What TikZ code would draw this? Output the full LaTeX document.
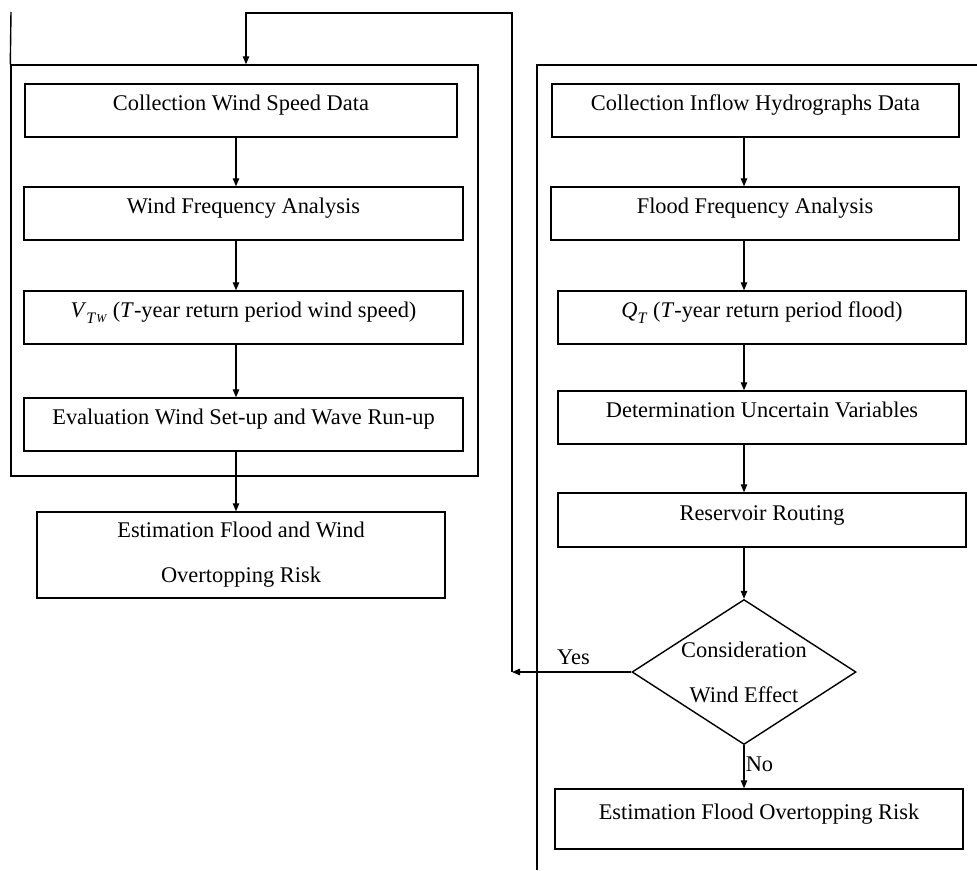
\documentclass[tikz,border=0pt]{standalone}
\usepackage{fontspec}
\setmainfont{Liberation Serif}
\usetikzlibrary{arrows.meta,shapes.geometric}
\newcommand{\subit}[1]{\raisebox{-0.28em}{\fontsize{16}{16}\selectfont\textit{#1}}}
\newcommand{\subsubit}[1]{\raisebox{-0.22em}{\fontsize{12}{12}\selectfont\textit{#1}}}
\begin{document}
\begin{tikzpicture}[x=1pt,y=-1pt,
  txt/.style={font=\fontsize{22.4}{45}\selectfont},
  box/.style={draw, line width=1.4pt, inner sep=0pt, txt, align=center,
    text height=16pt, text depth=16pt},
  tallbox/.style={draw, line width=1.4pt, inner sep=0pt, txt, align=center},
  frame/.style={draw, line width=1.4pt},
  arr/.style={line width=1.1pt, -{Triangle[length=8pt,width=6.5pt]}}]
\useasboundingbox (0,0) rectangle (977,870);

% left frame
\node[frame, minimum width=467pt, minimum height=411pt, inner sep=0pt] (lframe) at (244.5,270.5) {};
\coordinate (ltop) at (11,12);
\draw[frame] (lframe.north west) -- (ltop);

% right frame (open)
\coordinate (rf1) at (977,65);
\coordinate (rf2) at (537,65);
\coordinate (rf3) at (537,870);
\draw[frame] (rf1) -- (rf2) -- (rf3);

% left column
\node[box, minimum width=432pt, minimum height=53pt] (L1) at (241,110.5) {Collection Wind Speed Data};
\node[box, minimum width=439pt, minimum height=53pt] (L2) at (243.5,213.5) {Wind Frequency Analysis};
\node[box, minimum width=439pt, minimum height=53pt] (L3) at (243.5,317.5) {\textit{V}\subit{T}\subsubit{W} (\textit{T}-year return period wind speed)};
\node[box, minimum width=439pt, minimum height=53pt] (L4) at (243.5,424.5) {Evaluation Wind Set-up and Wave Run-up};
\node[tallbox, minimum width=408pt, minimum height=86pt] (L5) at (241,555) {Estimation Flood and Wind\\Overtopping Risk};

\coordinate (lx) at (236,0);
\draw[arr] (L1.south -| lx) -- (L2.north -| lx);
\draw[arr] (L2.south -| lx) -- (L3.north -| lx);
\draw[arr] (L3.south -| lx) -- (L4.north -| lx);
\draw[arr] (L4.south -| lx) -- (L5.north -| lx);

% right column
\node[box, minimum width=407pt, minimum height=53pt] (R1) at (755.5,110.5) {Collection Inflow Hydrographs Data};
\node[box, minimum width=408pt, minimum height=53pt] (R2) at (755,213.5) {Flood Frequency Analysis};
\node[box, minimum width=408pt, minimum height=53pt] (R3) at (762,317.5) {\textit{Q}\subit{T} (\textit{T}-year return period flood)};
\node[box, minimum width=408pt, minimum height=53pt] (R4) at (762,417.5) {Determination Uncertain Variables};
\node[box, minimum width=408pt, minimum height=54pt] (R5) at (762,520) {Reservoir Routing};
\node[diamond, draw, line width=1.4pt, inner sep=0pt, aspect=1.545,
  minimum width=224pt, minimum height=145pt] (dia) at (744,672) {};
\node[txt, align=center, inner sep=0pt] (diatext) at (dia.center) {Consideration\\Wind Effect};
\node[box, minimum width=408pt, minimum height=60pt] (R6) at (759,819) {Estimation Flood Overtopping Risk};

\coordinate (rx) at (744,0);
\draw[arr] (R1.south -| rx) -- (R2.north -| rx);
\draw[arr] (R2.south -| rx) -- (R3.north -| rx);
\draw[arr] (R3.south -| rx) -- (R4.north -| rx);
\draw[arr] (R4.south -| rx) -- (R5.north -| rx);
\draw[arr] (R5.south -| rx) -- (dia.north);
\draw[arr] (dia.south) -- (R6.north -| rx);

% feedback
\coordinate (c1) at (512,672);
\coordinate (c2) at (512,13);
\coordinate (c3) at (246,13);
\draw[arr] (dia.west) -- (c1);
\draw[arr] (c1) -- (c2) -- (c3) -- (lframe.north -| c3);

\node[txt, anchor=base, inner sep=0pt] (yes) at (573.5,664) {Yes};
\node[txt, anchor=base, inner sep=0pt] (no) at (759.5,771) {No};
\end{tikzpicture}
\end{document}
